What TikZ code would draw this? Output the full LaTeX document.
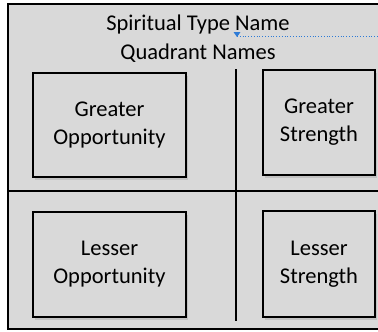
\documentclass[tikz,border=0pt]{standalone}
\usepackage{fontspec}
\setmainfont{Carlito}
\usetikzlibrary{shadows}
\definecolor{panel}{HTML}{D9D9D9}
\definecolor{pinblue}{HTML}{2E7BD6}
\begin{document}
\begin{tikzpicture}[x=1pt, y=-1pt, font=\fontsize{22.5}{28}\selectfont,
		quad/.style = {draw, line width=1.4pt, fill=panel, align=center, inner sep=0pt,
			drop shadow={shadow xshift=2pt, shadow yshift=-3pt, opacity=0.25}},
		divider/.style = {line width=2.6pt}]
		\useasboundingbox (0,0) rectangle (378,332);
		\begin{scope}
		\clip (0,0) rectangle (378,332);
		\draw[line width=1.4pt, fill=panel] (8,4) rectangle (392,329);
		\end{scope}
		\node (title) at (198,25) {Spiritual Type Name};
		\node (sub) at (198,53) {Quadrant Names};
		\coordinate (vtop) at (236,69);
		\coordinate (vbot) at (236,321);
		\coordinate (hleft) at (8,191);
		\coordinate (hright) at (378,191);
		\draw[divider] (vtop) -- (vbot);
		\draw[divider] (hleft) -- (hright);
		\node[quad, minimum width=153pt, minimum height=104pt] (go) at (109.5,125) {Greater\\Opportunity};
		\node[quad, minimum width=112pt, minimum height=105pt] (gs) at (319,122.5) {Greater\\Strength};
		\node[quad, minimum width=153pt, minimum height=105pt] (lo) at (109.5,264.5) {Lesser\\Opportunity};
		\node[quad, minimum width=112pt, minimum height=106pt] (ls) at (319,264) {Lesser\\Strength};
		\coordinate (pin) at (237,36);
		\coordinate (edge) at (378,36);
		\draw[pinblue, dotted, line width=0.8pt] (pin) -- (edge);
		\fill[pinblue] (233.5,32) -- (240.5,32) -- (237,37) -- cycle;
	\end{tikzpicture}
\end{document}
